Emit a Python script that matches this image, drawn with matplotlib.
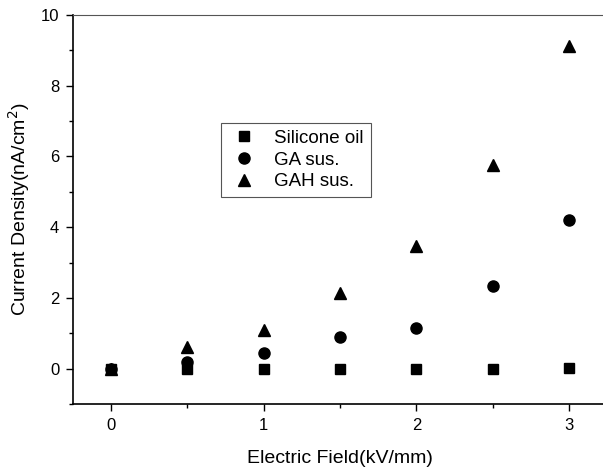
import matplotlib.pyplot as plt
from matplotlib.ticker import MultipleLocator

plt.rcParams['font.family'] = ['Liberation Sans', 'DejaVu Sans']

field = [0, 0.5, 1, 1.5, 2, 2.5, 3]
silicone_oil = [0, 0, 0, 0, 0, 0, 0.03]
ga_sus = [0, 0.2, 0.45, 0.9, 1.16, 2.34, 4.21]
gah_sus = [0, 0.62, 1.1, 2.15, 3.47, 5.76, 9.12]

fig = plt.figure(figsize=(6.03, 4.73), dpi=100)
ax = fig.add_axes([0.1211, 0.1459, 0.8856, 0.8224])

ax.plot(field, silicone_oil, 's', color='black', ms=7, label='Silicone oil', zorder=3)
ax.plot(field, ga_sus, 'o', color='black', ms=8, label='GA sus.', zorder=3)
ax.plot(field, gah_sus, '^', color='black', ms=8.5, label='GAH sus.', zorder=3)

ax.set_xlim(-0.25, 3.25)
ax.set_ylim(-1, 10)
ax.xaxis.set_major_locator(MultipleLocator(1))
ax.xaxis.set_minor_locator(MultipleLocator(0.5))
ax.yaxis.set_major_locator(MultipleLocator(2))
ax.yaxis.set_minor_locator(MultipleLocator(1))
ax.tick_params(which='both', direction='out', top=False, right=False, labelsize=12, width=1)
ax.tick_params(which='major', length=5, pad=5)
ax.tick_params(which='minor', length=3)

ax.spines['right'].set_visible(False)
ax.spines['top'].set_color('#555555')
ax.spines['top'].set_linewidth(0.8)
ax.spines['left'].set_linewidth(1.2)
ax.spines['bottom'].set_linewidth(1.2)

ax.set_xlabel('Electric Field(kV/mm)', fontsize=14, labelpad=12)
ax.set_ylabel('Current Density(nA/cm$^2$)', fontsize=14, labelpad=6)

leg = ax.legend(loc='upper left', bbox_to_anchor=(221 / 603, 1 - 123 / 473),
                bbox_transform=fig.transFigure, borderaxespad=0,
                fontsize=13.5, fancybox=False,
                frameon=True, edgecolor='#555555', framealpha=1,
                handletextpad=0.7, borderpad=0.35, labelspacing=0.25,
                handlelength=1.8)
leg.get_frame().set_linewidth(0.8)

fig.savefig('out.png', dpi=100)
